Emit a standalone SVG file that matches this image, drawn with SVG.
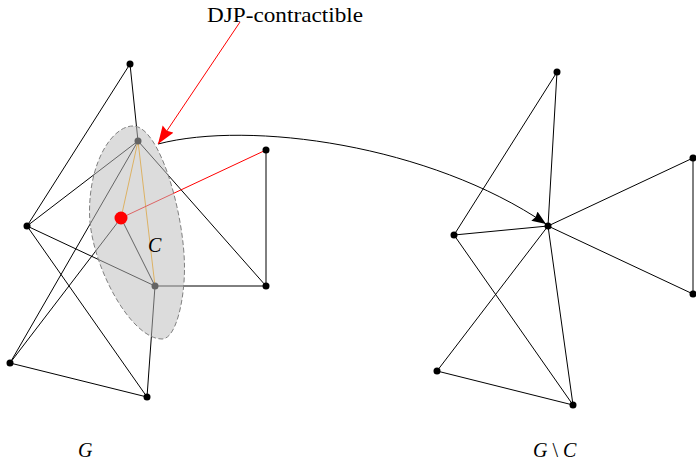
<svg xmlns="http://www.w3.org/2000/svg" width="696" height="460" viewBox="0 0 696 460">
<style>
.e{stroke:#000;stroke-width:1;fill:none}
.o{stroke:#ffa500;stroke-width:1;fill:none}
.r{stroke:#ff0000;stroke-width:1;fill:none}
.n{fill:#000}
.lbl{font-family:"Liberation Serif","Times New Roman",serif;fill:#000}
.m{font-style:italic}
</style>
<defs>
<marker id="ab" markerUnits="userSpaceOnUse" markerWidth="16" markerHeight="12" refX="14" refY="5.5" orient="auto"><path d="M0,0 L14,5.5 L0,11 L1.5,5.5 z" fill="#000"/></marker>
<marker id="ar" markerUnits="userSpaceOnUse" markerWidth="20" markerHeight="15" refX="18" refY="6.5" orient="auto"><path d="M0,0 L18,6.5 L0,13 L2,6.5 z" fill="#ff0000"/></marker>
</defs>
<rect width="696" height="460" fill="#fff"/>
<g id="connectors">
<line class="e" x1="130" y1="64" x2="138" y2="141"/>
<line class="e" x1="130" y1="64" x2="27" y2="226"/>
<line class="e" x1="27" y1="226" x2="138" y2="141"/>
<line class="e" x1="138" y1="141" x2="10" y2="363"/>
<line class="e" x1="27" y1="226" x2="155" y2="286"/>
<line class="e" x1="27" y1="226" x2="147" y2="397"/>
<line class="e" x1="138" y1="141" x2="266" y2="286"/>
<line class="e" x1="266" y1="150" x2="266" y2="286"/>
<line class="e" x1="155" y1="286" x2="266" y2="286"/>
<line class="e" x1="121" y1="218" x2="155" y2="286"/>
<line class="e" x1="121" y1="218" x2="10" y2="363"/>
<line class="e" x1="155" y1="286" x2="147" y2="397"/>
<line class="e" x1="10" y1="363" x2="147" y2="397"/>
<line class="o" x1="138" y1="141" x2="121" y2="218"/>
<line class="o" x1="138" y1="141" x2="155" y2="286"/>
<line class="r" x1="121" y1="218" x2="266" y2="150"/>
<line class="e" x1="557" y1="72" x2="454" y2="235"/>
<line class="e" x1="557" y1="72" x2="548" y2="226"/>
<line class="e" x1="454" y1="235" x2="548" y2="226"/>
<line class="e" x1="454" y1="235" x2="573" y2="405"/>
<line class="e" x1="548" y1="226" x2="437" y2="371"/>
<line class="e" x1="548" y1="226" x2="573" y2="405"/>
<line class="e" x1="548" y1="226" x2="693" y2="158"/>
<line class="e" x1="548" y1="226" x2="693" y2="294"/>
<line class="e" x1="693" y1="158" x2="693" y2="294"/>
<line class="e" x1="437" y1="371" x2="573" y2="405"/>
</g>
<g id="nodes-left">
<g id="a"><circle class="n" cx="130" cy="64" r="3.5"/></g>
<g id="b"><circle class="n" cx="138" cy="141" r="3.5"/></g>
<g id="c"><circle class="n" cx="27" cy="226" r="3.5"/></g>
<g id="d"><circle class="n" cx="155" cy="286" r="3.5"/></g>
<g id="e"><circle class="n" cx="266" cy="150" r="3.5"/></g>
<g id="f"><circle class="n" cx="266" cy="286" r="3.5"/></g>
<g id="h"><circle class="n" cx="10" cy="363" r="3.5"/></g>
<g id="i"><circle class="n" cx="147" cy="397" r="3.5"/></g>
</g>
<g id="cluster-C">
<path d="M133,126 C113,126 89.5,160 89.5,212 C89.5,262 130,339 162,339 C176,339 184.5,300 184.5,268 C184.5,215 160,126 133,126 Z" fill="#bcbcbc" fill-opacity="0.53" stroke="#808080" stroke-width="1" stroke-dasharray="5 2.5"/>
<text class="lbl m" x="148" y="252" font-size="20">C</text>
</g>
<g id="r"><circle cx="121" cy="218" r="6.5" fill="#ff0000"/></g>
<g id="nodes-right">
<g id="a2"><circle class="n" cx="557" cy="72" r="3.5"/></g>
<g id="c2"><circle class="n" cx="454" cy="235" r="3.5"/></g>
<g id="v2"><circle class="n" cx="548" cy="226" r="3.5"/></g>
<g id="e2"><circle class="n" cx="693" cy="158" r="3.5"/></g>
<g id="f2"><circle class="n" cx="693" cy="294" r="3.5"/></g>
<g id="h2"><circle class="n" cx="437" cy="371" r="3.5"/></g>
<g id="i2"><circle class="n" cx="573" cy="405" r="3.5"/></g>
</g>
<g id="arrows">
<path class="e" d="M158,144 C250,120 430,145 546,224" marker-end="url(#ab)"/>
<line class="r" x1="240" y1="22" x2="158" y2="144" marker-end="url(#ar)"/>
</g>
<g id="labels">
<text class="lbl" x="207" y="22" font-size="22" textLength="156" lengthAdjust="spacingAndGlyphs">DJP-contractible</text>
<text class="lbl m" x="78" y="457" font-size="20">G</text>
<text class="lbl" x="533" y="457" font-size="20"><tspan class="m">G</tspan> \ <tspan class="m">C</tspan></text>
</g>
</svg>
